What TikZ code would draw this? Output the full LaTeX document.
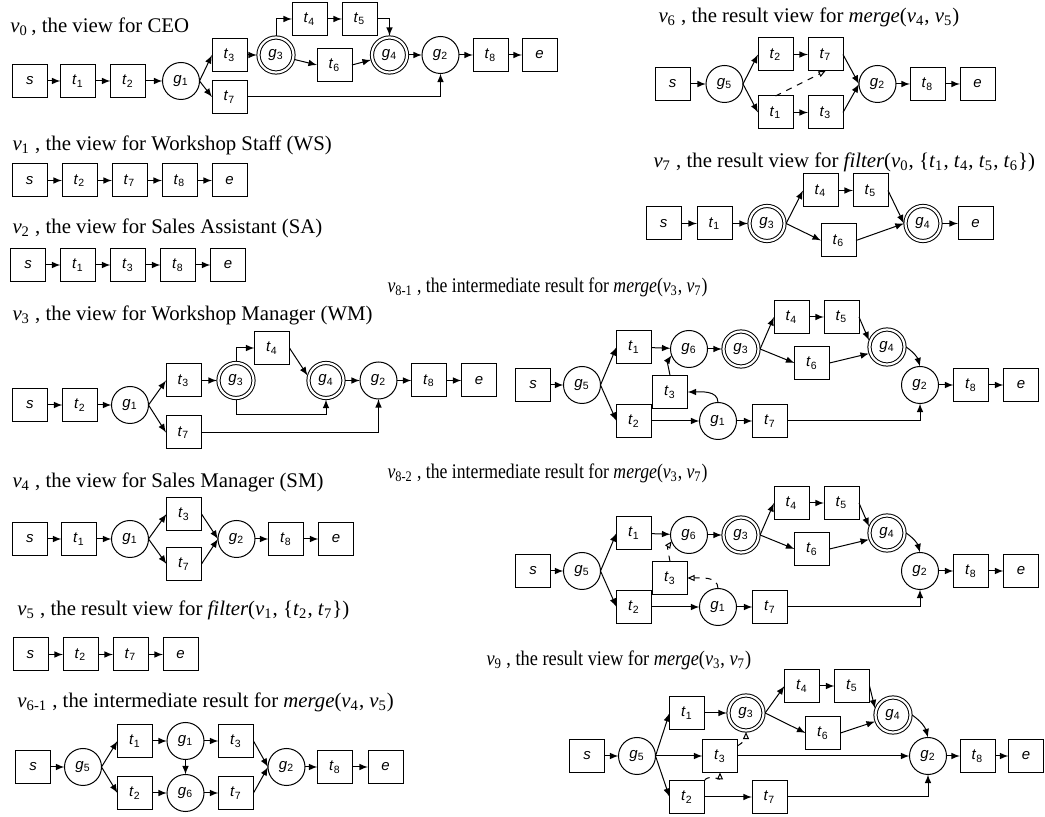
\documentclass[tikz,border=0pt]{standalone}
\usepackage{fontspec}
\setmainfont{Liberation Serif}
\newfontfamily\nodefont{Liberation Sans}
\usetikzlibrary{positioning,arrows,arrows.meta,calc}
\tikzset{tbox/.style={draw, rectangle, minimum width=17.5pt, minimum height=16.5pt, inner sep=0pt, outer sep=0pt, font=\nodefont\fontsize{7.5}{9}\selectfont}}
\tikzset{gcirc/.style={draw, circle, minimum size=18.5pt, inner sep=0pt, outer sep=0pt, font=\nodefont\fontsize{7.5}{9}\selectfont}}
\tikzset{gcirc2/.style={gcirc, double, double distance=1.1pt, minimum size=17.5pt, outer sep=0.8pt}}
\tikzset{arr/.style={draw, ->, >=latex}}
\tikzset{darr/.style={draw, dashed, -{Triangle[open, length=3.5pt, width=3pt]}}}
\tikzset{vtitle/.style={anchor=west, inner sep=0pt, font=\fontsize{10.4}{12.5}\selectfont}}
\newcommand{\tk}[2]{\textit{#1}\textsubscript{#2}}
\newcommand{\vw}[1]{\textit{v}\textsubscript{#1}}

\begin{document}
\begin{tikzpicture}[x=0.5pt, y=0.5pt, line width=0.5pt]
\useasboundingbox (0,0) rectangle (1045,-817);

% v0: CEO
\node[vtitle] (v0-title) at (10,-27) {\vw{0}\,, the view for CEO};
\node[tbox] (v0-s) at (30,-81) {\textit{s}};
\node[tbox] (v0-t1) at (78,-81) {\tk{t}{1}};
\node[tbox] (v0-t2) at (128,-81) {\tk{t}{2}};
\node[gcirc] (v0-g1) at (181,-81) {\tk{g}{1}};
\node[tbox] (v0-t3) at (229.5,-55) {\tk{t}{3}};
\node[tbox] (v0-t7) at (229.5,-97) {\tk{t}{7}};
\node[gcirc2] (v0-g3) at (276,-55) {\tk{g}{3}};
\node[tbox] (v0-t4) at (309.5,-19) {\tk{t}{4}};
\node[tbox] (v0-t5) at (359.5,-19) {\tk{t}{5}};
\node[tbox] (v0-t6) at (334.5,-65) {\tk{t}{6}};
\node[gcirc2] (v0-g4) at (389.5,-55) {\tk{g}{4}};
\node[gcirc] (v0-g2) at (440.5,-55) {\tk{g}{2}};
\node[tbox] (v0-t8) at (490.5,-55) {\tk{t}{8}};
\node[tbox] (v0-e) at (539.5,-55) {\textit{e}};
\draw[arr] (v0-s) -- (v0-t1);
\draw[arr] (v0-t1) -- (v0-t2);
\draw[arr] (v0-t2) -- (v0-g1);
\draw[arr] (v0-g1.east) -- (v0-t3.west);
\draw[arr] (v0-g1.east) -- (v0-t7.west);
\draw[arr] (v0-t3) -- (v0-g3);
\draw[arr] (v0-g3.north) |- (v0-t4.west);
\draw[arr] (v0-t4) -- (v0-t5);
\draw[arr] (v0-t5.east) -| (v0-g4.north);
\draw[arr] (v0-g3) -- (v0-t6.west);
\draw[arr] (v0-t6.east) -- (v0-g4);
\draw[arr] (v0-g4) -- (v0-g2);
\draw[arr] (v0-g2) -- (v0-t8);
\draw[arr] (v0-t8) -- (v0-e);
\draw[arr] (v0-t7.east) -| (v0-g2.south);

% v1: workshop staff
\node[vtitle] (v1-title) at (12,-145) {\vw{1} , the view for Workshop Staff (WS)};
\node[tbox] (v1-s) at (29.5,-180.5) {\textit{s}};
\node[tbox, right=7.5pt of v1-s] (v1-t2) {\tk{t}{2}};
\node[tbox, right=7.5pt of v1-t2] (v1-t7) {\tk{t}{7}};
\node[tbox, right=7.5pt of v1-t7] (v1-t8) {\tk{t}{8}};
\node[tbox, right=7.5pt of v1-t8] (v1-e) {\textit{e}};
\draw[arr] (v1-s) -- (v1-t2);
\draw[arr] (v1-t2) -- (v1-t7);
\draw[arr] (v1-t7) -- (v1-t8);
\draw[arr] (v1-t8) -- (v1-e);

% v2: sales assistant
\node[vtitle] (v2-title) at (12,-228) {\vw{2} , the view for Sales Assistant (SA)};
\node[tbox] (v2-s) at (28,-265) {\textit{s}};
\node[tbox, right=7.5pt of v2-s] (v2-t1) {\tk{t}{1}};
\node[tbox, right=7.5pt of v2-t1] (v2-t3) {\tk{t}{3}};
\node[tbox, right=7.5pt of v2-t3] (v2-t8) {\tk{t}{8}};
\node[tbox, right=7.5pt of v2-t8] (v2-e) {\textit{e}};
\draw[arr] (v2-s) -- (v2-t1);
\draw[arr] (v2-t1) -- (v2-t3);
\draw[arr] (v2-t3) -- (v2-t8);
\draw[arr] (v2-t8) -- (v2-e);

% v3: workshop manager
\node[vtitle] (v3-title) at (12,-315) {\vw{3} , the view for Workshop Manager (WM)};
\node[tbox] (v3-s) at (30,-405) {\textit{s}};
\node[tbox] (v3-t2) at (80,-405) {\tk{t}{2}};
\node[gcirc] (v3-g1) at (130,-405) {\tk{g}{1}};
\node[tbox] (v3-t3) at (183.5,-380.5) {\tk{t}{3}};
\node[tbox] (v3-t7) at (183.5,-432.5) {\tk{t}{7}};
\node[gcirc2] (v3-g3) at (236,-380.5) {\tk{g}{3}};
\node[tbox] (v3-t4) at (272,-348) {\tk{t}{4}};
\node[gcirc2] (v3-g4) at (326,-380.5) {\tk{g}{4}};
\node[gcirc] (v3-g2) at (378.5,-380.5) {\tk{g}{2}};
\node[tbox] (v3-t8) at (429,-380.5) {\tk{t}{8}};
\node[tbox] (v3-e) at (479,-380.5) {\textit{e}};
\draw[arr] (v3-s) -- (v3-t2);
\draw[arr] (v3-t2) -- (v3-g1);
\draw[arr] (v3-g1.east) -- (v3-t3.west);
\draw[arr] (v3-g1.east) -- (v3-t7.west);
\draw[arr] (v3-t3) -- (v3-g3);
\draw[arr] (v3-g3.north) |- (v3-t4.west);
\draw[arr] (v3-t4.east) -- (v3-g4.165);
\draw[arr] (v3-g3.south) -- ++(0,-15) -| (v3-g4.south);
\draw[arr] (v3-g4) -- (v3-g2);
\draw[arr] (v3-g2) -- (v3-t8);
\draw[arr] (v3-t8) -- (v3-e);
\draw[arr] (v3-t7.east) -| (v3-g2.south);

% v4: sales manager
\node[vtitle] (v4-title) at (12,-482) {\vw{4} , the view for Sales Manager (SM)};
\node[tbox] (v4-s) at (30,-539) {\textit{s}};
\node[tbox] (v4-t1) at (79,-539) {\tk{t}{1}};
\node[gcirc] (v4-g1) at (130,-539) {\tk{g}{1}};
\node[tbox] (v4-t3) at (184,-514) {\tk{t}{3}};
\node[tbox] (v4-t7) at (184,-564) {\tk{t}{7}};
\node[gcirc] (v4-g2) at (236.5,-539) {\tk{g}{2}};
\node[tbox] (v4-t8) at (286,-539) {\tk{t}{8}};
\node[tbox] (v4-e) at (336,-539) {\textit{e}};
\draw[arr] (v4-s) -- (v4-t1);
\draw[arr] (v4-t1) -- (v4-g1);
\draw[arr] (v4-g1.east) -- (v4-t3.west);
\draw[arr] (v4-g1.east) -- (v4-t7.west);
\draw[arr] (v4-t3.east) -- (v4-g2.west);
\draw[arr] (v4-t7.east) -- (v4-g2.west);
\draw[arr] (v4-g2) -- (v4-t8);
\draw[arr] (v4-t8) -- (v4-e);

% v5: filter(v1,{t2,t7})
\node[vtitle] (v5-title) at (17,-610) {\vw{5} , the result view for \textit{filter}(\vw{1}, \{\tk{t}{2}, \tk{t}{7}\})};
\node[tbox] (v5-s) at (30.5,-654.5) {\textit{s}};
\node[tbox, right=7.5pt of v5-s] (v5-t2) {\tk{t}{2}};
\node[tbox, right=7.5pt of v5-t2] (v5-t7) {\tk{t}{7}};
\node[tbox, right=7.5pt of v5-t7] (v5-e) {\textit{e}};
\draw[arr] (v5-s) -- (v5-t2);
\draw[arr] (v5-t2) -- (v5-t7);
\draw[arr] (v5-t7) -- (v5-e);

% v6-1: merge(v4,v5), first step
\node[vtitle] (v61-title) at (17,-702) {\vw{6-1} , the intermediate result for \textit{merge}(\vw{4}, \vw{5})};
\node[tbox] (v61-s) at (33,-767) {\textit{s}};
\node[gcirc] (v61-g5) at (83,-767) {\tk{g}{5}};
\node[tbox] (v61-t1) at (135,-741) {\tk{t}{1}};
\node[tbox] (v61-t2) at (135,-793) {\tk{t}{2}};
\node[gcirc] (v61-g1) at (185.5,-741) {\tk{g}{1}};
\node[gcirc] (v61-g6) at (185.5,-793) {\tk{g}{6}};
\node[tbox] (v61-t3) at (236,-741) {\tk{t}{3}};
\node[tbox] (v61-t7) at (236,-793) {\tk{t}{7}};
\node[gcirc] (v61-g2) at (286.5,-767) {\tk{g}{2}};
\node[tbox] (v61-t8) at (335,-767) {\tk{t}{8}};
\node[tbox] (v61-e) at (385.5,-767) {\textit{e}};
\draw[arr] (v61-s) -- (v61-g5);
\draw[arr] (v61-g5.east) -- (v61-t1.west);
\draw[arr] (v61-g5.east) -- (v61-t2.west);
\draw[arr] (v61-t1) -- (v61-g1);
\draw[arr] (v61-g1) -- (v61-t3);
\draw[arr] (v61-t2) -- (v61-g6);
\draw[arr] (v61-g6) -- (v61-t7);
\draw[arr] (v61-g1) -- (v61-g6);
\draw[arr] (v61-t3.east) -- (v61-g2.west);
\draw[arr] (v61-t7.east) -- (v61-g2.west);
\draw[arr] (v61-g2) -- (v61-t8);
\draw[arr] (v61-t8) -- (v61-e);

% v6: merge(v4,v5)
\node[vtitle] (v6-title) at (658,-17) {\vw{6} , the result view for \textit{merge}(\vw{4}, \vw{5})};
\node[tbox] (v6-s) at (672.5,-84) {\textit{s}};
\node[gcirc] (v6-g5) at (724.5,-84) {\tk{g}{5}};
\node[tbox] (v6-t2) at (775.5,-54.5) {\tk{t}{2}};
\node[tbox] (v6-t1) at (775.5,-112.5) {\tk{t}{1}};
\node[tbox] (v6-t7) at (825.5,-54.5) {\tk{t}{7}};
\node[tbox] (v6-t3) at (825.5,-112.5) {\tk{t}{3}};
\node[gcirc] (v6-g2) at (877.5,-84) {\tk{g}{2}};
\node[tbox] (v6-t8) at (927.5,-84) {\tk{t}{8}};
\node[tbox] (v6-e) at (977.5,-84) {\textit{e}};
\draw[arr] (v6-s) -- (v6-g5);
\draw[arr] (v6-g5.east) -- (v6-t2.west);
\draw[arr] (v6-g5.east) -- (v6-t1.west);
\draw[arr] (v6-t2) -- (v6-t7);
\draw[arr] (v6-t1) -- (v6-t3);
\draw[arr] (v6-t7.east) -- (v6-g2.west);
\draw[arr] (v6-t3.east) -- (v6-g2.west);
\draw[arr] (v6-g2) -- (v6-t8);
\draw[arr] (v6-t8) -- (v6-e);
\draw[darr] (v6-t1.north) -- (v6-t7.south);

% v7: filter(v0,{t1,t4,t5,t6})
\node[vtitle] (v7-title) at (653,-162) {\vw{7} , the result view for \textit{filter}(\vw{0}, \{\tk{t}{1}, \tk{t}{4}, \tk{t}{5}, \tk{t}{6}\})};
\node[tbox] (v7-s) at (663.5,-223.5) {\textit{s}};
\node[tbox] (v7-t1) at (714.5,-223.5) {\tk{t}{1}};
\node[gcirc2] (v7-g3) at (767,-223.5) {\tk{g}{3}};
\node[tbox] (v7-t4) at (820.5,-190.5) {\tk{t}{4}};
\node[tbox] (v7-t5) at (870.5,-190.5) {\tk{t}{5}};
\node[tbox] (v7-t6) at (838.5,-240.5) {\tk{t}{6}};
\node[gcirc2] (v7-g4) at (923,-223.5) {\tk{g}{4}};
\node[tbox] (v7-e) at (975.5,-223.5) {\textit{e}};
\draw[arr] (v7-s) -- (v7-t1);
\draw[arr] (v7-t1) -- (v7-g3);
\draw[arr] (v7-g3.east) -- (v7-t4.west);
\draw[arr] (v7-g3.east) -- (v7-t6.west);
\draw[arr] (v7-t4) -- (v7-t5);
\draw[arr] (v7-t5.east) -- (v7-g4.west);
\draw[arr] (v7-t6.east) -- (v7-g4.west);
\draw[arr] (v7-g4) -- (v7-e);

% v8-1: merge(v3,v7), first step
\node[vtitle] (v81-title) at (387,-287) {\scalebox{0.85}[1]{\vw{8-1} , the intermediate result for \textit{merge}(\vw{3}, \vw{7})}};
\node[tbox] (v81-s) at (533,-385) {\textit{s}};
\node[gcirc] (v81-g5) at (582,-385) {\tk{g}{5}};
\node[tbox] (v81-t1) at (634,-347) {\tk{t}{1}};
\node[tbox] (v81-t2) at (634,-421) {\tk{t}{2}};
\node[gcirc] (v81-g6) at (689,-349) {\tk{g}{6}};
\node[gcirc2] (v81-g3) at (741,-349) {\tk{g}{3}};
\node[tbox] (v81-t4) at (791.5,-317) {\tk{t}{4}};
\node[tbox] (v81-t5) at (841.5,-317) {\tk{t}{5}};
\node[tbox] (v81-t6) at (812,-363) {\tk{t}{6}};
\node[gcirc2] (v81-g4) at (887,-347) {\tk{g}{4}};
\node[tbox] (v81-t3) at (670,-392) {\tk{t}{3}};
\node[gcirc] (v81-g1) at (718,-421) {\tk{g}{1}};
\node[tbox] (v81-t7) at (770,-421) {\tk{t}{7}};
\node[gcirc] (v81-g2) at (920,-385) {\tk{g}{2}};
\node[tbox] (v81-t8) at (971,-385) {\tk{t}{8}};
\node[tbox] (v81-e) at (1021,-385) {\textit{e}};
\draw[arr] (v81-s) -- (v81-g5);
\draw[arr] (v81-g5.east) -- (v81-t1.west);
\draw[arr] (v81-g5.east) -- (v81-t2.west);
\draw[arr] (v81-t1) -- (v81-g6);
\draw[arr] (v81-g6) -- (v81-g3);
\draw[arr] (v81-g3.east) -- (v81-t4.west);
\draw[arr] (v81-g3.east) -- (v81-t6.west);
\draw[arr] (v81-t4) -- (v81-t5);
\draw[arr] (v81-t5.east) -- (v81-g4.160);
\draw[arr] (v81-t6.east) -- (v81-g4.200);
\draw[arr] (v81-g4.east) to[bend left=20] (v81-g2.north);
\draw[arr] (v81-g2) -- (v81-t8);
\draw[arr] (v81-t8) -- (v81-e);
\draw[arr] (v81-t2) -- (v81-g1);
\draw[arr] (v81-g1) -- (v81-t7);
\draw[arr] (v81-t7.east) -| (v81-g2.south);
\draw[arr] (v81-g1.north) to[out=90,in=0] (v81-t3.east);
\draw[arr] (v81-t3.north) to[out=100,in=235] (v81-g6.200);

% v8-2: merge(v3,v7), second step
\node[vtitle] (v82-title) at (387,-473) {\scalebox{0.85}[1]{\vw{8-2} , the intermediate result for \textit{merge}(\vw{3}, \vw{7})}};
\node[tbox] (v82-s) at (533,-571) {\textit{s}};
\node[gcirc] (v82-g5) at (582,-571) {\tk{g}{5}};
\node[tbox] (v82-t1) at (634,-533) {\tk{t}{1}};
\node[tbox] (v82-t2) at (634,-607) {\tk{t}{2}};
\node[gcirc] (v82-g6) at (689,-535) {\tk{g}{6}};
\node[gcirc2] (v82-g3) at (741,-535) {\tk{g}{3}};
\node[tbox] (v82-t4) at (791.5,-503) {\tk{t}{4}};
\node[tbox] (v82-t5) at (841.5,-503) {\tk{t}{5}};
\node[tbox] (v82-t6) at (812,-549) {\tk{t}{6}};
\node[gcirc2] (v82-g4) at (887,-533) {\tk{g}{4}};
\node[tbox] (v82-t3) at (670,-578) {\tk{t}{3}};
\node[gcirc] (v82-g1) at (718,-607) {\tk{g}{1}};
\node[tbox] (v82-t7) at (770,-607) {\tk{t}{7}};
\node[gcirc] (v82-g2) at (920,-571) {\tk{g}{2}};
\node[tbox] (v82-t8) at (971,-571) {\tk{t}{8}};
\node[tbox] (v82-e) at (1021,-571) {\textit{e}};
\draw[arr] (v82-s) -- (v82-g5);
\draw[arr] (v82-g5.east) -- (v82-t1.west);
\draw[arr] (v82-g5.east) -- (v82-t2.west);
\draw[arr] (v82-t1) -- (v82-g6);
\draw[arr] (v82-g6) -- (v82-g3);
\draw[arr] (v82-g3.east) -- (v82-t4.west);
\draw[arr] (v82-g3.east) -- (v82-t6.west);
\draw[arr] (v82-t4) -- (v82-t5);
\draw[arr] (v82-t5.east) -- (v82-g4.160);
\draw[arr] (v82-t6.east) -- (v82-g4.200);
\draw[arr] (v82-g4.east) to[bend left=20] (v82-g2.north);
\draw[arr] (v82-g2) -- (v82-t8);
\draw[arr] (v82-t8) -- (v82-e);
\draw[arr] (v82-t2) -- (v82-g1);
\draw[arr] (v82-g1) -- (v82-t7);
\draw[arr] (v82-t7.east) -| (v82-g2.south);
\draw[darr] (v82-g1.north) to[out=90,in=0] (v82-t3.east);
\draw[darr] (v82-t3.north) to[out=100,in=235] (v82-g6.200);

% v9: merge(v3,v7)
\node[vtitle] (v9-title) at (486,-660) {\scalebox{0.88}[1]{\vw{9} , the result view for \textit{merge}(\vw{3}, \vw{7})}};
\node[tbox] (v9-s) at (587,-756) {\textit{s}};
\node[gcirc] (v9-g5) at (637,-756) {\tk{g}{5}};
\node[tbox] (v9-t1) at (687,-713) {\tk{t}{1}};
\node[tbox] (v9-t3) at (720,-756) {\tk{t}{3}};
\node[tbox] (v9-t2) at (687,-797) {\tk{t}{2}};
\node[gcirc2] (v9-g3) at (746,-713) {\tk{g}{3}};
\node[tbox] (v9-t4) at (802,-686) {\tk{t}{4}};
\node[tbox] (v9-t5) at (852,-686) {\tk{t}{5}};
\node[tbox] (v9-t6) at (823,-733) {\tk{t}{6}};
\node[gcirc2] (v9-g4) at (893,-715) {\tk{g}{4}};
\node[tbox] (v9-t7) at (769.5,-797) {\tk{t}{7}};
\node[gcirc] (v9-g2) at (928,-756) {\tk{g}{2}};
\node[tbox] (v9-t8) at (977.5,-756) {\tk{t}{8}};
\node[tbox] (v9-e) at (1026,-756) {\textit{e}};
\draw[arr] (v9-s) -- (v9-g5);
\draw[arr] (v9-g5.east) -- (v9-t1.west);
\draw[arr] (v9-g5) -- (v9-t3);
\draw[arr] (v9-g5.east) -- (v9-t2.west);
\draw[arr] (v9-t1) -- (v9-g3);
\draw[arr] (v9-g3.east) -- (v9-t4.west);
\draw[arr] (v9-g3.east) -- (v9-t6.west);
\draw[arr] (v9-t4) -- (v9-t5);
\draw[arr] (v9-t5.east) -- (v9-g4.160);
\draw[arr] (v9-t6.east) -- (v9-g4.200);
\draw[arr] (v9-g4.east) to[bend left=20] (v9-g2.north);
\draw[arr] (v9-t3) -- (v9-g2);
\draw[arr] (v9-g2) -- (v9-t8);
\draw[arr] (v9-t8) -- (v9-e);
\draw[arr] (v9-t2) -- (v9-t7);
\draw[arr] (v9-t7.east) -| (v9-g2.south);
\draw[darr] (v9-t3.30) to[out=30,in=-90] (v9-g3.south);
\draw[darr] (v9-t2.north east) to[out=60,in=-90] (v9-t3.south);
\end{tikzpicture}
\end{document}
